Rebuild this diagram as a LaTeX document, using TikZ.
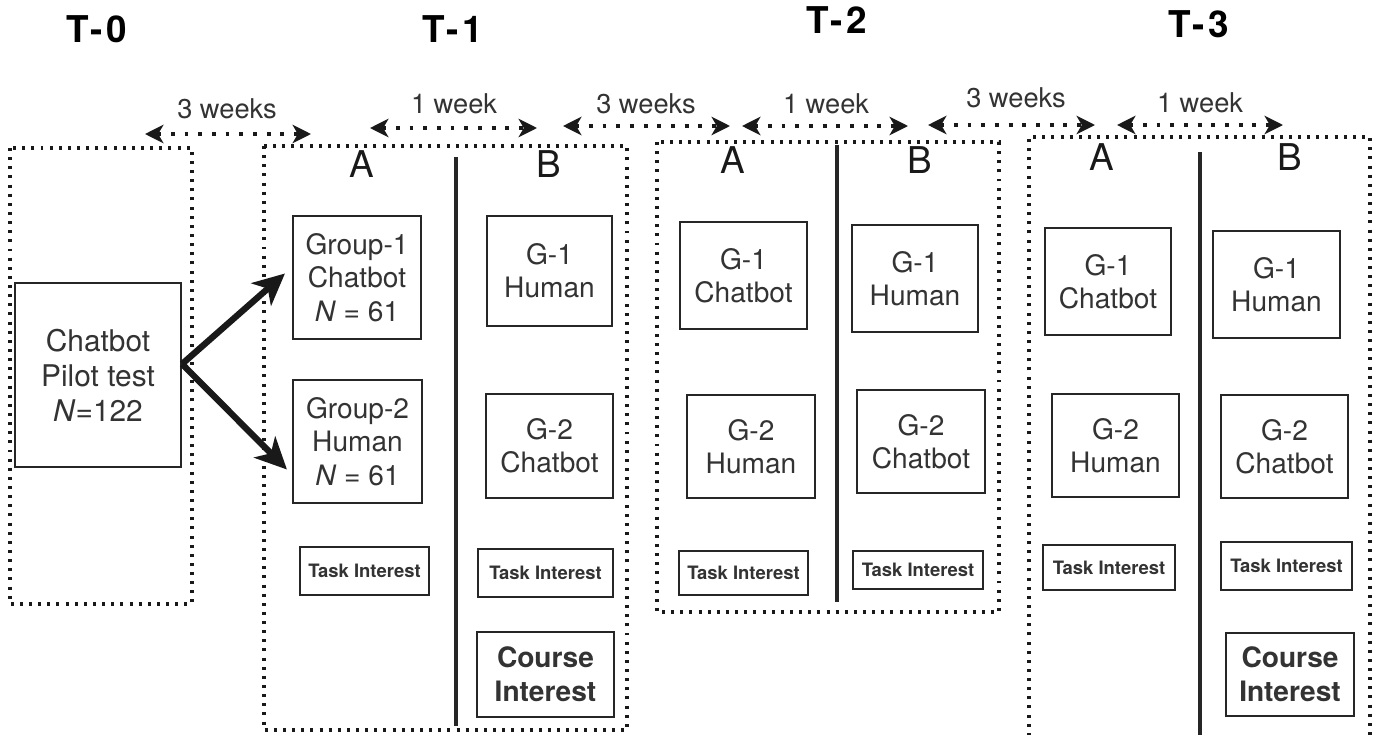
\documentclass[tikz,border=0pt]{standalone}
\usepackage{fontspec}
\setmainfont{TeX Gyre Heros}
\newfontfamily\titlefont[LetterSpace=10]{TeX Gyre Heros}
\usetikzlibrary{arrows.meta,calc}
\definecolor{ink}{HTML}{333333}
\newcommand\mybox[7][]{%
  \pgfmathsetmacro\bcx{(#3+#5)/2}\pgfmathsetmacro\bcy{(#4+#6)/2}%
  \pgfmathsetmacro\bw{(#5-#3)*0.02}\pgfmathsetmacro\bh{(#6-#4)*0.02}%
  \node[#1, minimum width=\bw cm, minimum height=\bh cm] (#2) at (\bcx,\bcy) {#7};}
\begin{document}
\begin{tikzpicture}[x=0.02cm,y=-0.02cm,
  dotframe/.style={draw=black!90, line width=1.9pt, dash pattern=on 1.7pt off 3.5pt},
  divider/.style={draw=black!85, line width=2.3pt},
  box/.style={draw=black!85, line width=1.2pt, text=ink, align=center, inner sep=0pt, font=\fontsize{16}{19}\selectfont},
  taskbox/.style={box, font=\bfseries\fontsize{10.5}{12}\selectfont},
  coursebox/.style={box, font=\bfseries\fontsize{16}{19.5}\selectfont},
  pilotbox/.style={box, font=\fontsize{17}{20}\selectfont},
  tlabel/.style={font=\titlefont\bfseries\fontsize{21}{24}\selectfont, text=black, anchor=base},
  ablabel/.style={font=\fontsize{21}{24}\selectfont, text=black!90, anchor=base},
  wklabel/.style={font=\fontsize{15.5}{18}\selectfont, text=ink, anchor=base},
  weekarrow/.style={draw=black!90, line width=2.3pt, dash pattern=on 2.2pt off 5.6pt,
    {Stealth[length=10.5pt,width=10.5pt,inset=3pt]}-{Stealth[length=10.5pt,width=10.5pt,inset=3pt]}},
  bigarrow/.style={draw=black!90, line width=3.6pt, -{Stealth[length=18pt,width=17pt,inset=5pt]}}
]
\fill[white] (0,0) rectangle (1375,734);
\useasboundingbox (0,0) rectangle (1375,734);
\clip (0,0) rectangle (1375,734);

% titles
\node[tlabel] (T0) at (97,42) {T-0};
\node[tlabel] (T1) at (453,42) {T-1};
\node[tlabel] (T2) at (837,33) {T-2};
\node[tlabel] (T3) at (1199,37) {T-3};

% week labels
\node[wklabel] (w1) at (227,118) {3 weeks};
\node[wklabel] (w2) at (454,113) {1 week};
\node[wklabel] (w3) at (646,113) {3 weeks};
\node[wklabel] (w4) at (826,113) {1 week};
\node[wklabel] (w5) at (1016,107) {3 weeks};
\node[wklabel] (w6) at (1200,112) {1 week};

% week arrows
\coordinate (a1l) at (145,134); \coordinate (a1r) at (311,134);
\coordinate (a2l) at (370,128); \coordinate (a2r) at (537,128);
\coordinate (a3l) at (563,126); \coordinate (a3r) at (730,126);
\coordinate (a4l) at (742,126); \coordinate (a4r) at (908,126);
\coordinate (a5l) at (928,125); \coordinate (a5r) at (1095,125);
\coordinate (a6l) at (1117,125); \coordinate (a6r) at (1283,125);
\draw[weekarrow] (a1l) -- (a1r);
\draw[weekarrow] (a2l) -- (a2r);
\draw[weekarrow] (a3l) -- (a3r);
\draw[weekarrow] (a4l) -- (a4r);
\draw[weekarrow] (a5l) -- (a5r);
\draw[weekarrow] (a6l) -- (a6r);

% frames
\draw[dotframe] (10,148) rectangle (192,604);
\draw[dotframe] (264,146) rectangle (627,730);
\draw[dotframe] (657,142) rectangle (999,612);
\draw[dotframe] (1029,745) -- (1029,137) -- (1370,137) -- (1370,745);

% dividers
\draw[divider] (456,157) -- (456,726);
\draw[divider] (837,145) -- (837,602);
\draw[divider] (1200,152) -- (1200,745);

% A / B labels
\node[ablabel] (A1) at (362,177) {A};
\node[ablabel] (B1) at (549,177) {B};
\node[ablabel] (A2) at (733,173) {A};
\node[ablabel] (B2) at (920,173) {B};
\node[ablabel] (A3) at (1102,170) {A};
\node[ablabel] (B3) at (1290,170) {B};

% T-0
\mybox[pilotbox]{pilot}{15}{283}{181}{467}{Chatbot\\Pilot test\\\textit{N}=122}

% T-1
\mybox[box]{g1a}{293}{216}{421}{339}{Group-1\\Chatbot\\\textit{N} = 61}
\mybox[box]{g2a}{293}{380}{422}{503}{Group-2\\Human\\\textit{N} = 61}
\mybox[taskbox]{ta1}{300}{547}{429}{595}{Task Interest}
\mybox[box]{g1b}{487}{216}{612}{326}{G-1\\Human}
\mybox[box]{g2b}{486}{394}{613}{498}{G-2\\Chatbot}
\mybox[taskbox]{tb1}{478}{549}{613}{597}{Task Interest}
\mybox[coursebox]{cb1}{477}{632}{614}{717}{Course\\Interest}

% T-2
\mybox[box]{g1a2}{680}{222}{807}{329}{G-1\\Chatbot}
\mybox[box]{g2a2}{687}{395}{815}{498}{G-2\\Human}
\mybox[taskbox]{ta2}{679}{551}{808}{595}{Task Interest}
\mybox[box]{g1b2}{852}{225}{978}{332}{G-1\\Human}
\mybox[box]{g2b2}{857}{390}{985}{493}{G-2\\Chatbot}
\mybox[taskbox]{tb2}{853}{551}{983}{589}{Task Interest}

% T-3
\mybox[box]{g1a3}{1045}{228}{1171}{335}{G-1\\Chatbot}
\mybox[box]{g2a3}{1052}{394}{1179}{497}{G-2\\Human}
\mybox[taskbox]{ta3}{1043}{545}{1175}{590}{Task Interest}
\mybox[box]{g1b3}{1213}{231}{1340}{338}{G-1\\Human}
\mybox[box]{g2b3}{1221}{395}{1348}{498}{G-2\\Chatbot}
\mybox[taskbox]{tb3}{1221}{542}{1352}{590}{Task Interest}
\mybox[coursebox]{cb3}{1226}{633}{1354}{716}{Course\\Interest}

% split arrows
\draw[bigarrow] ($(pilot.east)+(0,-11)$) -- ($(g1a.west)+(-7,-4)$);
\draw[bigarrow] ($(pilot.east)+(0,-11)$) -- ($(g2a.west)+(-5,28)$);
\end{tikzpicture}
\end{document}
